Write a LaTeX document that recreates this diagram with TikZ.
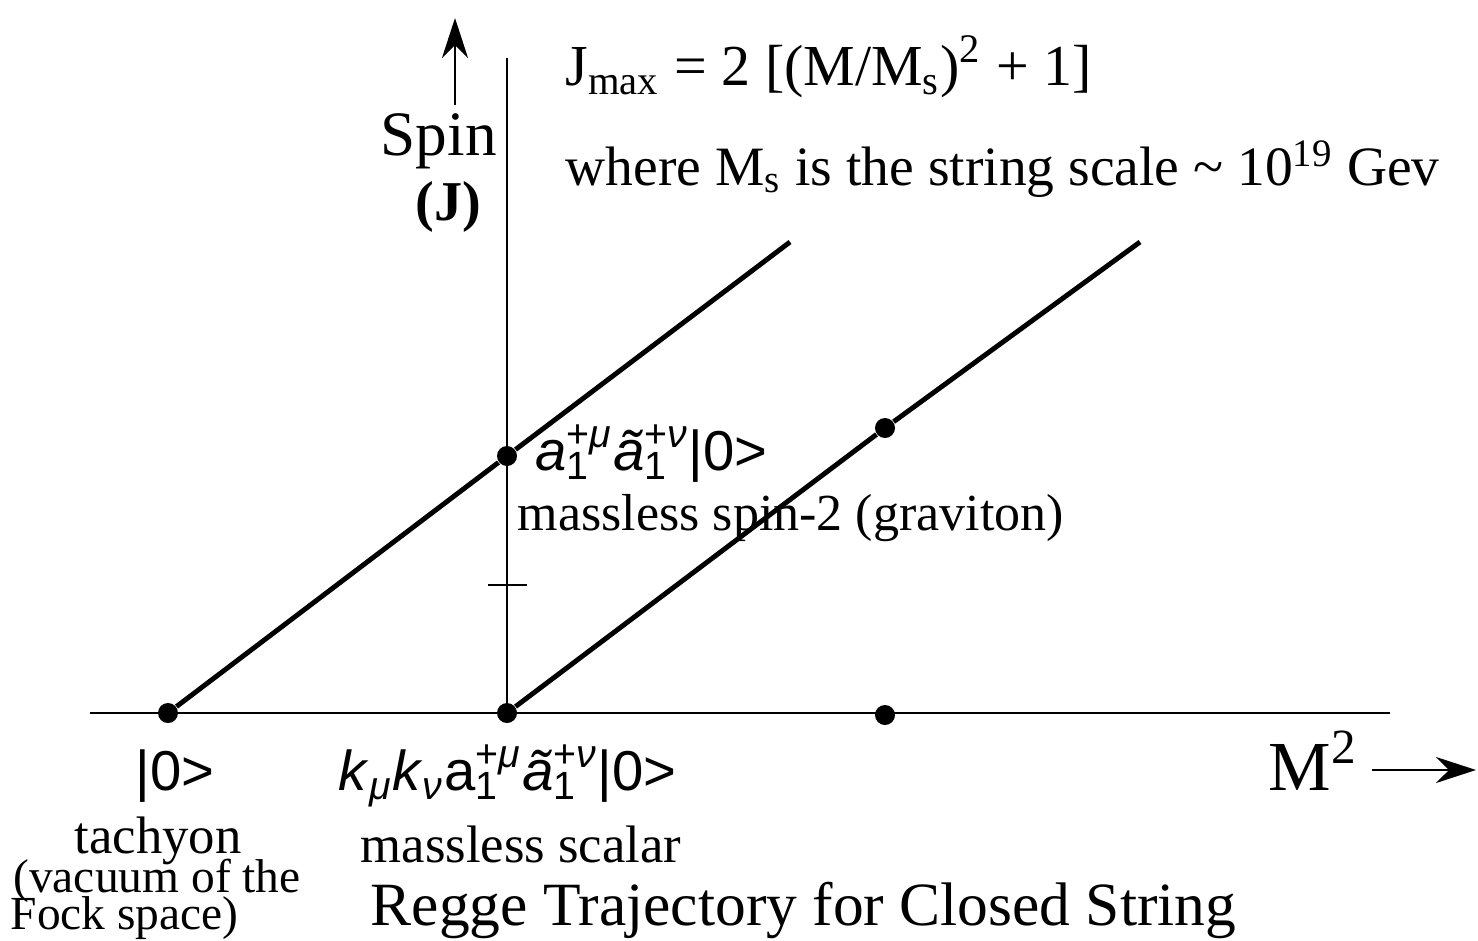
\documentclass[tikz,border=0pt]{standalone}
\usepackage{fontspec}
\setmainfont{Liberation Serif}
\newfontfamily\ketfont{Liberation Sans}
\usetikzlibrary{arrows.meta}
\newcommand{\idx}[2]{\setbox0\hbox{\textsuperscript{#1}}\rlap{\textsubscript{#2}}\box0}

\begin{document}
\begin{tikzpicture}
  \tikzstyle{dot}=[circle,fill,inner sep=0pt,minimum size=2mm]
  \tikzstyle{axis}=[line width=0.8pt]
  \tikzstyle{traj}=[line width=1.4pt]
  \tikzstyle{lab}=[inner sep=0pt,anchor=base west,font=\fontsize{15}{16}\selectfont]
  \tikzstyle{ket}=[inner sep=0pt,anchor=base west,font=\ketfont\fontsize{16}{17}\selectfont]
  \useasboundingbox (0,0) rectangle (14.78,9.40) ;
  % axes
  \coordinate (xl) at (0.90,2.27) ;
  \coordinate (xr) at (13.90,2.27) ;
  \coordinate (yb) at (5.07,2.27) ;
  \coordinate (yt) at (5.07,8.82) ;
  \draw [axis] (xl) -- (xr) ;
  \draw [axis] (yb) -- (yt) ;
  \draw [axis] (4.88,3.55) -- (5.27,3.55) ;
  % states
  \node [dot] (tach) at (1.68,2.27) {} ;
  \node [dot] (scal) at (5.07,2.27) {} ;
  \node [dot] (xdot) at (8.85,2.25) {} ;
  \node [dot] (grav) at (5.07,4.84) {} ;
  \node [dot] (mdot) at (8.85,5.12) {} ;
  \coordinate (lend) at (7.90,6.98) ;
  \coordinate (rend) at (11.40,6.98) ;
  \draw [traj] (tach) -- (grav) -- (lend) ;
  \draw [traj] (scal) -- (mdot) -- (rend) ;
  % axis labels
  \coordinate (sbot) at (4.55,8.35) ;
  \coordinate (stop) at (4.55,9.22) ;
  \draw [axis,-{Stealth[length=4mm,width=2.6mm]}] (sbot) -- (stop) ;
  \node [lab,font=\fontsize{18}{19}\selectfont] (spin) at (3.80,7.85) {Spin} ;
  \node [lab,font=\bfseries\fontsize{16}{17}\selectfont] (jlab) at (4.15,7.20) {(J)} ;
  \node [lab,font=\fontsize{20}{21}\selectfont] (msq) at (12.68,1.50) {M\textsuperscript{2}} ;
  \coordinate (mbeg) at (13.72,1.70) ;
  \coordinate (mend) at (14.76,1.70) ;
  \draw [axis,-{Stealth[length=4mm,width=2.6mm]}] (mbeg) -- (mend) ;
  % formula
  \node [lab,font=\fontsize{16.5}{18}\selectfont] (jmax) at (5.65,8.55) {J\textsubscript{max} = 2 [(M/M\textsubscript{s})\textsuperscript{2} + 1]} ;
  \node [lab,font=\fontsize{15.8}{18}\selectfont] (where) at (5.65,7.55) {where M\textsubscript{s} is the string scale \textasciitilde{} 10\textsuperscript{19} Gev} ;
  % state labels
  \node [ket] (gket) at (5.35,4.70) {\textit{a}\idx{+\textit{μ}}{1} \textit{ã}\idx{+\textit{ν}}{1}|0>} ;
  \node [lab,font=\fontsize{14.8}{16}\selectfont] (glab) at (5.17,4.10) {massless spin-2 (graviton)} ;
  \node [ket] (tket) at (1.35,1.50) {|0>} ;
  \node [ket] (sket) at (3.38,1.50) {\textit{k}\textsubscript{\textit{μ}}\textit{k}\textsubscript{\textit{ν}}a\idx{+\textit{μ}}{1} \textit{ã}\idx{+\textit{ν}}{1}|0>} ;
  \node [lab,anchor=base] (tlab) at (1.58,0.87) {tachyon} ;
  \node [lab,anchor=base,font=\fontsize{13.5}{15}\selectfont] (vlab) at (1.57,0.48) {(vacuum of the} ;
  \node [lab,font=\fontsize{13.5}{15}\selectfont] (flab) at (0.10,0.11) {Fock space)} ;
  \node [lab] (slab) at (3.60,0.78) {massless scalar} ;
  \node [lab,font=\fontsize{17.5}{19}\selectfont] (title) at (3.70,0.15) {Regge Trajectory for Closed String} ;
\end{tikzpicture}
\end{document}
